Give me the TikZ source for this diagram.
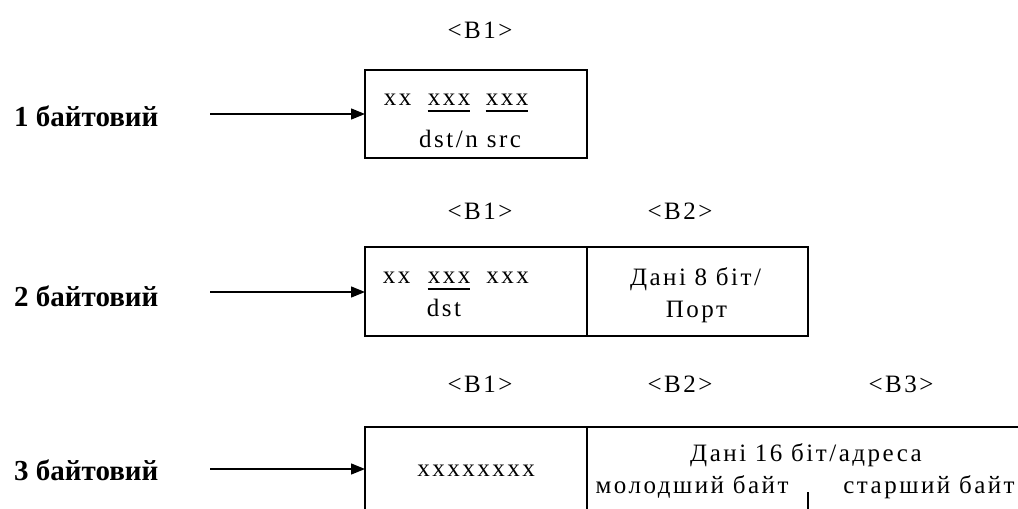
\documentclass[tikz,border=0pt]{standalone}
\usepackage{fontspec}
\setmainfont{Liberation Serif}
\newfontfamily\rf[LetterSpace=10]{Liberation Serif}
\usetikzlibrary{arrows.meta}
\begin{document}
\begin{tikzpicture}[x=1pt,y=-1pt,
  box/.style={draw,line width=1.4pt,anchor=north west,inner sep=0pt,outer sep=0pt},
  txt/.style={font=\fontsize{25}{27}\rf,inner sep=0pt,anchor=base},
  lbl/.style={font=\fontsize{29}{31}\selectfont\bfseries,inner sep=0pt,anchor=base west},
  arr/.style={-{Triangle[length=14pt,width=11pt]},line width=1.4pt},
  ul/.style={line width=1.5pt}]
\clip (0,0) rectangle (1018,509);
\fill[white] (0,0) rectangle (1018,509);

% boxes
\node[box,minimum width=222pt,minimum height=88pt] (r1a) at (365,70) {};
\node[box,minimum width=222pt,minimum height=89pt] (r2a) at (365,247) {};
\node[box,minimum width=221pt,minimum height=89pt] (r2b) at (587,247) {};
\node[box,minimum width=222pt,minimum height=120pt] (r3a) at (365,427) {};
\node[box,minimum width=440pt,minimum height=120pt] (r3b) at (587,427) {};

% byte labels
\node[txt] (b11) at (480,38) {<B1>};
\node[txt] (b21) at (480,219) {<B1>};
\node[txt] (b22) at (680,219) {<B2>};
\node[txt] (b31) at (480,392) {<B1>};
\node[txt] (b32) at (680,392) {<B2>};
\node[txt] (b33) at (901,392) {<B3>};

% row labels and arrows
\node[lbl] (l1) at (14,126) {1 байтовий};
\node[lbl] (l2) at (14,306) {2 байтовий};
\node[lbl] (l3) at (14,480) {3 байтовий};
\coordinate (s1) at (210,114);
\coordinate (s2) at (210,292);
\coordinate (s3) at (210,469);
\draw[arr] (s1) -- (s1 -| r1a.west);
\draw[arr] (s2) -- (s2 -| r2a.west);
\draw[arr] (s3) -- (s3 -| r3a.west);

% box 1 content
\node[txt] (a1) at (397.5,105) {xx};
\node[txt] (a2) at (449,105) {xxx};
\node[txt] (a3) at (507,105) {xxx};
\node[txt] (a4) at (448.5,147) {dst/n};
\node[txt] (a5) at (504,147) {src};
\coordinate (u1) at (0,111);
\draw[ul] (a2.west |- u1) -- (a2.east |- u1);
\draw[ul] (a3.west |- u1) -- (a3.east |- u1);

% box 2 content
\node[txt] (c1) at (396.5,283) {xx};
\node[txt] (c2) at (449,283) {xxx};
\node[txt] (c3) at (507.5,283) {xxx};
\node[txt] (c4) at (444,316) {dst};
\coordinate (u2) at (0,289);
\draw[ul] (c2.west |- u2) -- (c2.east |- u2);
\node[txt] (d1) at (695.5,285) {Дані 8 біт/};
\node[txt] (d2) at (696.5,317) {Порт};

% box 3 content
\node[txt] (e1) at (476,476) {xxxxxxxx};
\node[txt] (f1) at (806,461) {Дані 16 біт/адреса};
\node[txt] (f2) at (692,493) {молодший байт};
\node[txt] (f3) at (929,493) {старший байт};
\coordinate (t1) at (808,492);
\draw[line width=1.4pt] (t1) -- (t1 |- 0,520);
\end{tikzpicture}
\end{document}
